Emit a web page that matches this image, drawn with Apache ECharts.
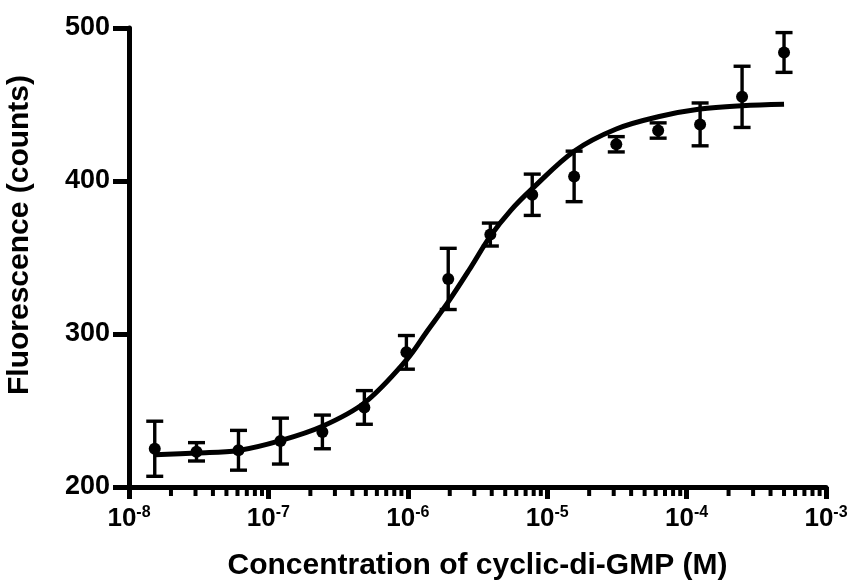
<!DOCTYPE html>
<html>
<head>
<meta charset="utf-8">
<script src="https://cdn.jsdelivr.net/npm/echarts@6/dist/echarts.min.js"></script>
<style>
html,body{margin:0;padding:0;background:#fff;}
#chart{width:851px;height:586px;}
</style>
</head>
<body>
<div id="chart"></div>
<script>
// Concentrations (M) of cyclic-di-GMP (2-fold dilution series)
const concentrations = [1.53e-8, 3.05e-8, 6.1e-8, 1.22e-7, 2.44e-7, 4.88e-7, 9.77e-7, 1.95e-6, 3.91e-6, 7.81e-6, 1.56e-5, 3.13e-5, 6.25e-5, 1.25e-4, 2.5e-4, 5e-4];
// Mean fluorescence (counts)
const fluorescence = [225, 223, 224, 230, 236, 252, 288, 336, 365, 391, 403, 424, 433, 437, 455, 484];
// Error bar half-heights (counts)
const errorBars = [18, 6, 13, 15, 11, 11, 11, 20, 7.5, 13.5, 16.5, 5, 5, 14, 20, 13];
// Fitted curve
const fitX = [1.53e-8, 3.05e-8, 6.1e-8, 1.22e-7, 2.44e-7, 4.88e-7, 9.77e-7, 1.38e-6, 1.95e-6, 2.76e-6, 3.91e-6, 5.5e-6, 7.81e-6, 1.56e-5, 3.13e-5, 6.25e-5, 1.25e-4, 2.5e-4, 5e-4];
const fitY = [221, 222.2, 223.9, 230.3, 239.7, 255, 283, 302, 321, 342, 364, 381, 395, 419.5, 434, 442, 447, 449.2, 450.2];
// Axis settings
const xMin = 1e-8, xMax = 1e-3;
const yMin = 200, yMax = 500, yStep = 100;
const xDecades = [-8, -7, -6, -5, -4];
const minorMultipliers = [2, 3, 4, 5, 6, 7, 8, 9];

const minorTickValues = [];
xDecades.forEach(e => minorMultipliers.forEach(m => minorTickValues.push(m * Math.pow(10, e))));

const pointData = concentrations.map((c, i) => [c, fluorescence[i]]);
const errData = concentrations.map((c, i) => [c, fluorescence[i] - errorBars[i], fluorescence[i] + errorBars[i]]);
const fitData = fitX.map((c, i) => [c, fitY[i]]);

const FONT = '"Liberation Sans", Arial, Helvetica, sans-serif';

const chart = echarts.init(document.getElementById('chart'), null, {renderer: 'canvas'});
chart.setOption({
  animation: false,
  backgroundColor: '#ffffff',
  grid: {left: 129, right: 25, top: 28, bottom: 98, containLabel: false},
  xAxis: {
    type: 'log', logBase: 10, min: xMin, max: xMax, splitNumber: 5,
    name: 'Concentration of cyclic-di-GMP (M)', nameLocation: 'middle', nameGap: 64,
    nameTextStyle: {fontFamily: FONT, fontWeight: 'bold', fontSize: 30, color: '#000'},
    axisLine: {show: true, lineStyle: {color: '#000', width: 5}},
    axisTick: {show: true, length: 12, lineStyle: {color: '#000', width: 5}},
    splitLine: {show: false},
    axisLabel: {
      margin: 18,
      formatter: v => '{b|10}{s|' + Math.round(Math.log10(v)) + '}',
      rich: {
        b: {fontFamily: FONT, fontWeight: 'bold', fontSize: 26, color: '#000', lineHeight: 28},
        s: {fontFamily: FONT, fontWeight: 'bold', fontSize: 16, color: '#000', lineHeight: 15, verticalAlign: 'top'}
      }
    }
  },
  yAxis: {
    type: 'value', min: yMin, max: yMax, interval: yStep,
    axisLine: {show: true, lineStyle: {color: '#000', width: 5}},
    axisTick: {show: true, length: 16, lineStyle: {color: '#000', width: 5}},
    splitLine: {show: false},
    axisLabel: {margin: 19, fontFamily: FONT, fontWeight: 'bold', fontSize: 27, color: '#000'}
  },
  graphic: [{
    type: 'text', x: 20, y: 235, rotation: Math.PI / 2,
    style: {text: 'Fluorescence (counts)', fontFamily: FONT, fontWeight: 'bold', fontSize: 30, fill: '#000', align: 'center', verticalAlign: 'middle'}
  }],
  series: [
    {
      type: 'custom', name: 'minorTicks', silent: true, clip: false, z: 1,
      data: minorTickValues.map(v => [v, yMin]),
      renderItem: (params, api) => {
        const p = api.coord([api.value(0), api.value(1)]);
        return {type: 'line', shape: {x1: p[0], y1: p[1], x2: p[0], y2: p[1] + 9}, style: {stroke: '#000', lineWidth: 4}};
      }
    },
    {
      type: 'line', name: 'fit', data: fitData, smooth: 0.35, showSymbol: false, symbol: 'none',
      lineStyle: {color: '#000', width: 5}, z: 3
    },
    {
      type: 'custom', name: 'error', data: errData, z: 4, clip: false,
      renderItem: (params, api) => {
        const lo = api.coord([api.value(0), api.value(1)]);
        const hi = api.coord([api.value(0), api.value(2)]);
        const hw = 8.5;
        const st = {stroke: '#000', lineWidth: 3.4};
        return {type: 'group', children: [
          {type: 'line', shape: {x1: lo[0], y1: lo[1], x2: hi[0], y2: hi[1]}, style: st},
          {type: 'line', shape: {x1: lo[0] - hw, y1: lo[1], x2: lo[0] + hw, y2: lo[1]}, style: st},
          {type: 'line', shape: {x1: hi[0] - hw, y1: hi[1], x2: hi[0] + hw, y2: hi[1]}, style: st}
        ]};
      }
    },
    {
      type: 'scatter', name: 'data', data: pointData, symbol: 'circle', symbolSize: 12,
      itemStyle: {color: '#000', opacity: 1}, z: 5
    }
  ]
});
</script>
</body>
</html>
